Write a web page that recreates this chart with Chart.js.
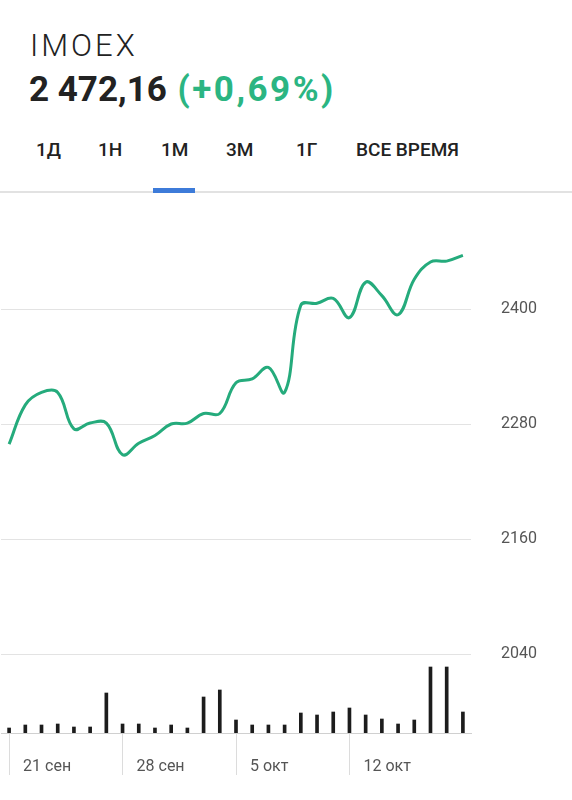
<!DOCTYPE html>
<html>
<head>
<meta charset="utf-8">
<script src="https://cdn.jsdelivr.net/npm/chart.js@4"></script>
<style>
  html, body { margin: 0; padding: 0; background: #fff; }
  body { width: 572px; height: 800px; position: relative; overflow: hidden; font-family: Roboto, "Noto Sans", sans-serif; color: #222; }
  #title { position: absolute; left: 30px; top: 28px; font-size: 31px; font-weight: 300; line-height: 36px; letter-spacing: 3px; color: #222; }
  #price { position: absolute; left: 29px; top: 69px; font-size: 35px; font-weight: 700; line-height: 41px; color: #222; white-space: nowrap; }
  #price .chg { color: #2bb582; letter-spacing: 2.5px; margin-left: 2px; }
  .tab { position: absolute; top: 139px; font-size: 19px; font-weight: 500; line-height: 22px; color: #222; white-space: nowrap; }
  #sep { position: absolute; left: 0; top: 191px; width: 572px; height: 2px; background: #e2e2e2; }
  #ind { position: absolute; left: 153px; top: 188px; width: 42px; height: 5px; background: #3d7bd9; }
  #wrap { position: absolute; left: 0; top: 196px; width: 572px; height: 604px; }
</style>
</head>
<body>
<div id="title">IMOEX</div>
<div id="price">2 472,16 <span class="chg">(+0,69%)</span></div>
<div class="tab" style="left:36px">1Д</div>
<div class="tab" style="left:98px">1Н</div>
<div class="tab" style="left:161px">1М</div>
<div class="tab" style="left:226px">3М</div>
<div class="tab" style="left:296px">1Г</div>
<div class="tab" style="left:356px">ВСЕ ВРЕМЯ</div>
<div id="sep"></div>
<div id="ind"></div>
<div id="wrap"><canvas id="c" width="572" height="604"></canvas></div>
<script>
// Dates (daily, 21 сен – 19 окт)
const dates = [
  "21 сен","22 сен","23 сен","24 сен","25 сен","26 сен","27 сен","28 сен","29 сен","30 сен",
  "1 окт","2 окт","3 окт","4 окт","5 окт","6 окт","7 окт","8 окт","9 окт","10 окт",
  "11 окт","12 окт","13 окт","14 окт","15 окт","16 окт","17 окт","18 окт","19 окт"
];
// Index values
const prices = [
  2259, 2300, 2313, 2313, 2275, 2281, 2281, 2248, 2260, 2268,
  2280, 2281, 2291, 2291, 2323, 2327, 2339, 2313, 2404, 2406,
  2411, 2391, 2428, 2414, 2394, 2431, 2449, 2450, 2456
];
// Volume (relative units)
const volumes = [
  5, 8, 8, 9, 6, 6, 40, 9, 9, 5,
  8, 5, 36, 43, 13, 8, 8, 8, 20, 18,
  21, 25, 18, 14, 9, 13, 66, 66, 21
];
// Axis labels
const xTickLabels = ["21 сен", "28 сен", "5 окт", "12 окт"];
const yTicks = [2040, 2160, 2280, 2400];
const yMin = 1957.6, yMax = 2505.4;
const volMax = 525;

const lineColor = '#25ab7c';
const labelFont = { family: 'Roboto', size: 16 };

new Chart(document.getElementById('c'), {
  data: {
    labels: dates,
    datasets: [
      {
        type: 'line',
        data: prices,
        yAxisID: 'y',
        borderColor: lineColor,
        borderWidth: 3,
        tension: 0.4,
        pointRadius: 0,
        fill: false,
        order: 0
      },
      {
        type: 'bar',
        data: volumes,
        yAxisID: 'v',
        backgroundColor: '#1c1c1c',
        barThickness: 3,
        order: 1
      }
    ]
  },
  options: {
    responsive: false,
    animation: false,
    events: [],
    layout: { padding: { top: 12, left: 1, right: 0, bottom: 0 } },
    plugins: { legend: { display: false }, tooltip: { enabled: false } },
    scales: {
      x: {
        type: 'category',
        offset: true,
        grid: { offset: false, drawOnChartArea: false, drawTicks: true, tickLength: 42, color: '#dcdcdc', lineWidth: 1 },
        border: { display: true, color: '#d0d0d0', width: 1 },
        ticks: {
          autoSkip: false,
          maxRotation: 0,
          align: 'start',
          labelOffset: 14,
          padding: -18,
          color: '#555',
          font: labelFont,
          callback: function(val) {
            const l = this.getLabelForValue(val);
            return xTickLabels.includes(l) ? l : null;
          }
        },
        afterFit: axis => { axis.height = 67; }
      },
      y: {
        position: 'right',
        min: yMin,
        max: yMax,
        afterBuildTicks: axis => { axis.ticks = yTicks.map(v => ({ value: v })); },
        grid: { color: '#e3e3e3', lineWidth: 1, drawTicks: true, tickLength: 30, tickColor: 'rgba(0,0,0,0)' },
        border: { display: false },
        ticks: { padding: 0, color: '#555', font: labelFont, callback: v => String(v) },
        afterFit: axis => { axis.width = 101; }
      },
      v: {
        display: false,
        min: 0,
        max: volMax
      }
    }
  }
});
</script>
</body>
</html>
